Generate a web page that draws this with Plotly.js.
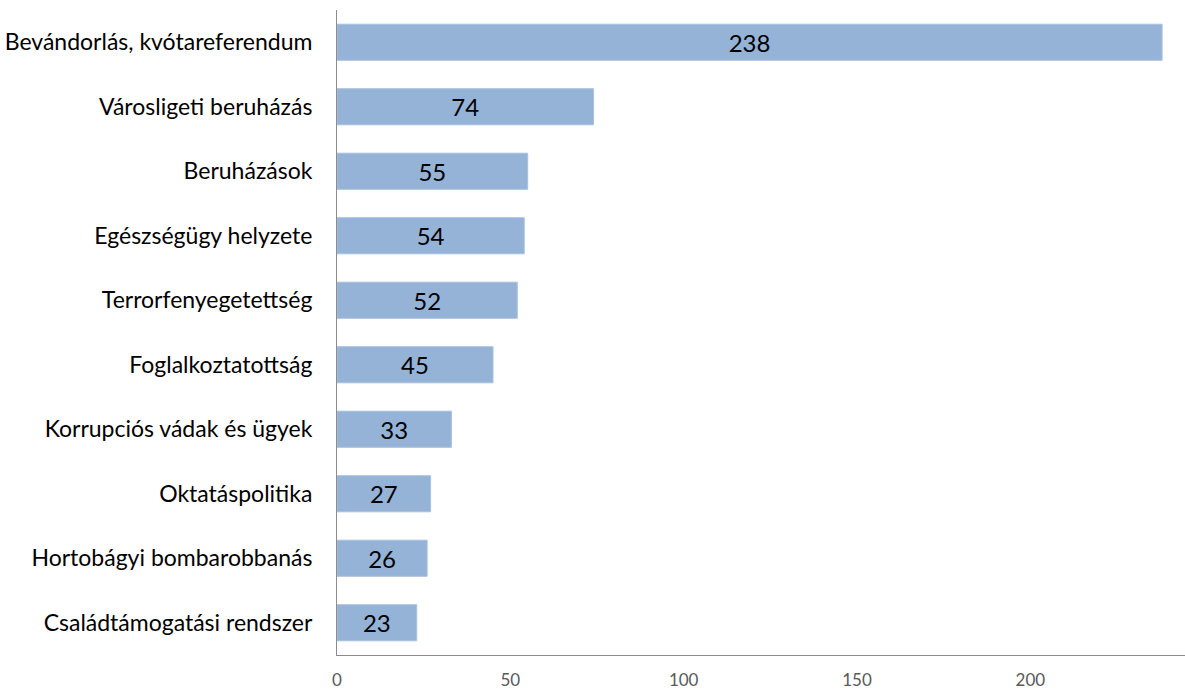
<!DOCTYPE html>
<html><head><meta charset="utf-8">
<script src="https://cdn.plot.ly/plotly-3.0.1.min.js"></script>
<style>html,body{margin:0;padding:0;background:#fff;}#chart{width:1185px;height:692px;}</style>
</head><body><div id="chart"></div>
<script>
const categories = ["Bevándorlás, kvótareferendum","Városligeti beruházás","Beruházások","Egészségügy helyzete","Terrorfenyegetettség","Foglalkoztatottság","Korrupciós vádak és ügyek","Oktatáspolitika","Hortobágyi bombarobbanás","Családtámogatási rendszer"];
const values = [238,74,55,54,52,45,33,27,26,23];
const xTicks = [0,50,100,150,200];

Plotly.newPlot('chart', [{
  type:'bar', orientation:'h', x: values, y: categories,
  marker:{color:'#95b3d7', line:{color:'#a9c1de', width:1}},
  text: values.map(String), textposition:'inside', insidetextanchor:'middle',
  textfont:{family:'Lato, Open Sans, sans-serif', size:24, color:'#000'},
  hoverinfo:'none'
}], {
  width:1185, height:692,
  margin:{l:337, r:0, t:10, b:37},
  paper_bgcolor:'#fff', plot_bgcolor:'#fff',
  bargap:0.44,
  showlegend:false,
  xaxis:{range:[0,244.6], tickvals:xTicks, ticktext:xTicks.map(String), showgrid:false, zeroline:false,
    showline:true, linecolor:'#8c8c8c', linewidth:1, ticks:'', ticklabelstandoff:10,
    tickfont:{family:'Lato, Open Sans, sans-serif', size:17, color:'#595959'}},
  yaxis:{autorange:'reversed', showgrid:false, zeroline:false, showline:true, linecolor:'#8c8c8c', linewidth:1,
    ticks:'', ticklabelstandoff:19,
    tickfont:{family:'Lato, Open Sans, sans-serif', size:23, color:'#000'}}
}, {staticPlot:true});
</script></body></html>
